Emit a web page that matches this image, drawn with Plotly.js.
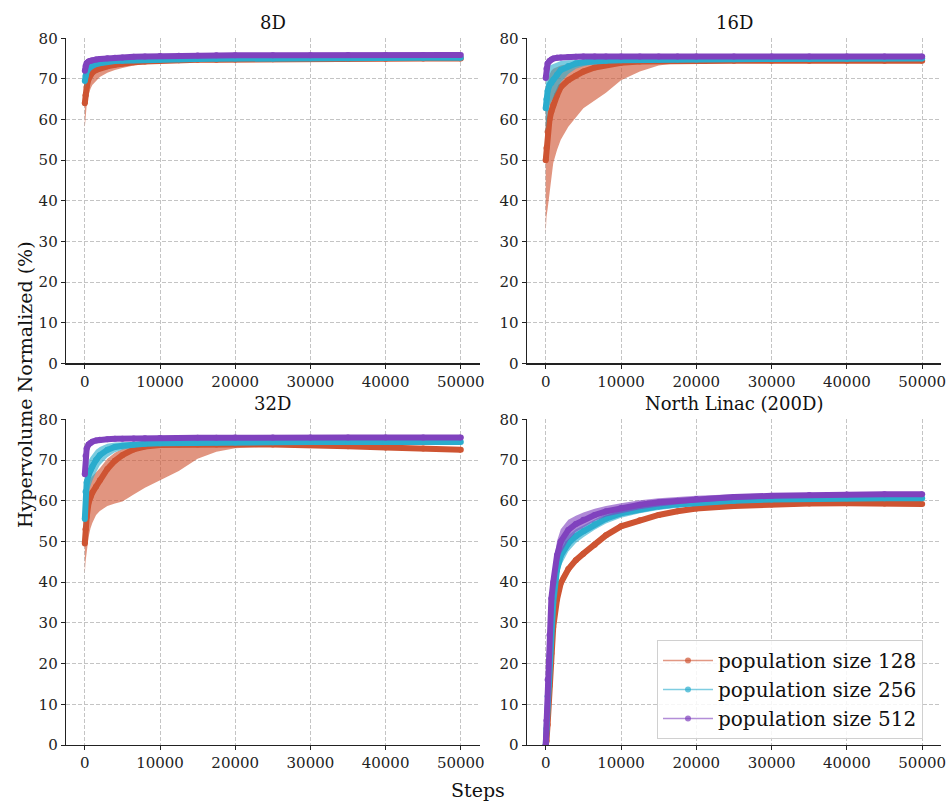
<!DOCTYPE html>
<html><head><meta charset="utf-8">
<script src="https://cdn.plot.ly/plotly-3.0.1.min.js"></script>
<style>html,body{margin:0;padding:0;background:#fff}</style>
</head><body><div id="chart" style="width:950px;height:803px"></div>
<script>
// ---------- data ----------
const steps = [0,100,250,500,750,1000,1500,2000,3000,4000,5000,6500,8000,10000,12500,15000,17500,20000,25000,30000,35000,40000,45000,50000];
const seriesNames = ['population size 128','population size 256','population size 512'];
const panelTitles = ['8D','16D','32D','North Linac (200D)'];
const xTickVals = [0,10000,20000,30000,40000,50000];
const yTickVals = [0,10,20,30,40,50,60,70,80];

// 8D
const d8_mean128 = [64,66,68,70,71,71.6,72.2,72.6,73.1,73.5,73.8,74.1,74.3,74.5,74.6,74.7,74.75,74.8,74.85,74.9,74.9,74.95,75,75];
const d8_errLo128 = [6,5,4.5,4,3.5,3.1,2.7,2.1,1.6,1.3,1.1,0.8,0.6,0.5,0.4,0.3,0.25,0.2,0.2,0.2,0.2,0.2,0.2,0.2];
const d8_errHi128 = [6,5,4,3,2.3,2,1.7,1.5,1.2,1,0.8,0.6,0.5,0.4,0.4,0.3,0.25,0.25,0.2,0.2,0.2,0.2,0.2,0.2];
const d8_mean256 = [69.5,70.8,71.8,72.6,73.0,73.3,73.7,73.9,74.2,74.4,74.5,74.6,74.7,74.8,74.85,74.9,74.95,75,75.05,75.1,75.1,75.15,75.2,75.2];
const d8_errLo256 = [2,1.8,1.6,1.3,1.1,1,0.9,0.8,0.6,0.5,0.45,0.4,0.35,0.3,0.3,0.25,0.25,0.2,0.2,0.2,0.2,0.2,0.2,0.2];
const d8_errHi256 = [1.6,1.4,1.2,1,0.9,0.8,0.7,0.6,0.5,0.45,0.4,0.35,0.3,0.3,0.25,0.25,0.2,0.2,0.2,0.2,0.2,0.2,0.2,0.2];
const d8_mean512 = [72,73.2,73.9,74.3,74.5,74.6,74.8,74.9,75.1,75.2,75.3,75.45,75.55,75.65,75.7,75.75,75.8,75.8,75.85,75.85,75.9,75.9,75.9,75.9];
const d8_err512 = [1.5,1.2,0.9,0.7,0.6,0.55,0.5,0.5,0.45,0.45,0.4,0.4,0.35,0.35,0.3,0.3,0.3,0.3,0.3,0.3,0.3,0.3,0.3,0.3];

// 16D
const d16_mean128 = [50,53,57,60,62,63.6,66,68,69.7,70.8,71.8,72.8,73.4,74,74.3,74.4,74.45,74.5,74.5,74.5,74.5,74.5,74.5,74.5];
const d16_errLo128 = [18,17,19,19,17,14.3,13.5,13,11.5,10.3,9,8,6.8,4.3,2.5,1.1,0.55,0.3,0.2,0.2,0.2,0.2,0.2,0.2];
const d16_errHi128 = [12,13,12,11,10,8.9,7,5.3,4,3.2,2.4,1.6,1.1,0.6,0.3,0.2,0.15,0.15,0.2,0.2,0.2,0.2,0.2,0.2];
const d16_mean256 = [62.8,65,67,68.5,69,69.8,71,72.2,73.2,73.8,74.1,74.4,74.5,74.6,74.7,74.75,74.8,74.8,74.85,74.9,74.9,74.95,75,75];
const d16_errLo256 = [6,6,5.5,5,4.8,4.5,3.8,3,2,1.3,1,0.7,0.5,0.4,0.35,0.3,0.3,0.25,0.25,0.2,0.2,0.2,0.2,0.2];
const d16_errHi256 = [6,6,5.5,4.8,4.5,4,3,2.2,1.4,0.9,0.7,0.5,0.45,0.4,0.35,0.3,0.3,0.25,0.25,0.2,0.2,0.2,0.2,0.2];
const d16_mean512 = [70.2,72.5,73.8,74.4,74.8,75,75.2,75.3,75.4,75.45,75.5,75.5,75.5,75.55,75.55,75.55,75.55,75.55,75.55,75.55,75.55,75.55,75.55,75.55];
const d16_err512 = [1,0.8,0.6,0.5,0.4,0.35,0.3,0.3,0.25,0.25,0.2,0.2,0.2,0.2,0.2,0.2,0.2,0.2,0.2,0.2,0.2,0.2,0.2,0.2];

// 32D
const d32_mean128 = [49.5,53,56,59.5,61,62,63.5,65,67.8,69.8,71.2,72.6,73.3,73.7,73.8,73.8,73.8,73.8,73.8,73.7,73.4,73.1,72.8,72.5];
const d32_errLo128 = [7.3,8,8,8.5,7.8,7.5,7,7.5,9.1,10.5,11.4,11.1,10.1,8.7,6.5,3.5,1.8,0.9,0.4,0.3,0.3,0.3,0.3,0.3];
const d32_errHi128 = [5,5,5,5,4.5,4,3.5,3,2.5,2,1.5,1,0.6,0.4,0.3,0.3,0.3,0.3,0.3,0.3,0.3,0.3,0.3,0.3];
const d32_mean256 = [55.5,62.2,64.5,66.3,67.5,68.4,70,71.2,72.5,73.2,73.5,73.8,74,74.1,74.2,74.25,74.3,74.3,74.35,74.4,74.4,74.4,74.4,74.4];
const d32_errLo256 = [3,4,4,4,3.8,3.5,3,2.5,1.8,1.3,1,0.7,0.5,0.4,0.3,0.3,0.3,0.3,0.3,0.3,0.3,0.3,0.3,0.3];
const d32_errHi256 = [3,3.5,3.5,3.5,3.2,3,2.5,2,1.5,1.1,0.9,0.6,0.5,0.4,0.3,0.3,0.3,0.3,0.3,0.3,0.3,0.3,0.3,0.3];
const d32_mean512 = [66.5,71,72.8,73.8,74.2,74.5,74.8,75,75.1,75.2,75.25,75.3,75.35,75.4,75.4,75.45,75.45,75.5,75.5,75.5,75.5,75.5,75.5,75.5];
const d32_err512 = [1.5,1,0.7,0.5,0.4,0.35,0.3,0.3,0.3,0.25,0.25,0.25,0.25,0.25,0.25,0.25,0.25,0.25,0.25,0.25,0.25,0.25,0.25,0.25];

// North Linac (200D)
const nl_mean128 = [0,1,5,14.5,22.5,29,35.8,39.8,43.2,45.4,47,49.2,51.5,53.7,55.2,56.5,57.4,58.1,58.7,59.1,59.3,59.4,59.3,59.2];
const nl_err128 = [0,1,2,2.5,2.5,2.5,2,1.5,1,0.8,0.7,0.6,0.5,0.5,0.4,0.4,0.4,0.4,0.3,0.3,0.3,0.3,0.3,0.3];
const nl_mean256 = [0,4,12,22,30.5,35,43,46.5,49.5,51.3,52.5,54.2,55.6,56.9,57.9,58.6,59.1,59.5,60,60.3,60.5,60.6,60.6,60.6];
const nl_err256 = [0,1.5,3,3.5,3.5,3.5,3,2.5,2,1.7,1.5,1.3,1.2,1.1,1,0.9,0.8,0.7,0.6,0.5,0.5,0.4,0.4,0.4];
const nl_mean512 = [0,6,16,27,36,40,46.6,50,52.8,54.3,55.3,56.5,57.4,58.2,59,59.6,60,60.4,60.9,61.2,61.4,61.5,61.6,61.6];
const nl_err512 = [0,2,3.5,4,4,4,3.5,3,2.5,2,1.8,1.5,1.3,1.2,1.1,1,0.9,0.8,0.7,0.6,0.5,0.5,0.5,0.5];

// ---------- build ----------
const colors = [[206,84,50],[42,172,205],[128,66,190]];
const rgba = (c,a) => `rgba(${c[0]},${c[1]},${c[2]},${a})`;
const panels = [
  [[d8_mean128,d8_errLo128,d8_errHi128],[d8_mean256,d8_errLo256,d8_errHi256],[d8_mean512,d8_err512,d8_err512]],
  [[d16_mean128,d16_errLo128,d16_errHi128],[d16_mean256,d16_errLo256,d16_errHi256],[d16_mean512,d16_err512,d16_err512]],
  [[d32_mean128,d32_errLo128,d32_errHi128],[d32_mean256,d32_errLo256,d32_errHi256],[d32_mean512,d32_err512,d32_err512]],
  [[nl_mean128,nl_err128,nl_err128],[nl_mean256,nl_err256,nl_err256],[nl_mean512,nl_err512,nl_err512]]
];
const FONT = 'DejaVu Serif, Liberation Serif, serif';
const traces = [];
panels.forEach((panel, pi) => {
  const sfx = pi === 0 ? '' : String(pi + 1);
  panel.forEach((s, si) => {
    const [mean, eLo, eHi] = s;
    const upper = mean.map((v,i) => v + eHi[i]);
    const lower = mean.map((v,i) => v - eLo[i]);
    traces.push({
      type:'scatter', x: steps.concat(steps.slice().reverse()),
      y: upper.concat(lower.slice().reverse()),
      fill:'toself', fillcolor: rgba(colors[si],0.62), line:{width:0},
      mode:'lines', hoverinfo:'skip', showlegend:false,
      xaxis:'x'+sfx, yaxis:'y'+sfx
    });
    traces.push({
      type:'scatter', x: steps, y: mean, mode:'lines+markers',
      line:{color: rgba(colors[si],1), width:6},
      marker:{color: rgba(colors[si],1), size:6},
      showlegend:false, name: seriesNames[si],
      xaxis:'x'+sfx, yaxis:'y'+sfx
    });
  });
});
seriesNames.forEach((n, si) => {
  traces.push({type:'scatter', x:[null], y:[null], mode:'lines+markers', name:n,
    line:{color: rgba(colors[si],0.6), width:1.5}, marker:{color: rgba(colors[si],0.7), size:6},
    xaxis:'x4', yaxis:'y4', showlegend:true});
});

const W = 950, H = 803;
const xDomL = [66/W, 479.6/W], xDomR = [526.9/W, 941/W];
const yDomT = [1-363.3/H, 1-38.3/H], yDomB = [1-745/H, 1-419.3/H];
const axCommon = {
  showline:true, linecolor:'#222', linewidth:1.3, ticks:'outside', ticklen:4, tickcolor:'#222',
  showgrid:true, gridcolor:'#c4c4c4', griddash:'4px,2px', gridwidth:1, zeroline:false,
  tickfont:{family:FONT, size:15, color:'#222'}
};
const xAx = (dom, anchor) => Object.assign({
  domain: dom, anchor: anchor, range:[-2500,52500], tickvals:xTickVals, ticktext:xTickVals.map(String)
}, axCommon);
const yAx = (dom, anchor) => Object.assign({
  domain: dom, anchor: anchor, range:[0,80], tickvals:yTickVals, ticktext:yTickVals.map(String)
}, axCommon);
const titlePos = [[272.8,22],[734,22],[272.8,403],[734,403]];
const annotations = panelTitles.map((t,i) => ({
  text:t, xref:'paper', yref:'paper', x:titlePos[i][0]/W, y:1-titlePos[i][1]/H,
  xanchor:'center', yanchor:'middle', showarrow:false, font:{family:FONT, size:18, color:'#111'}
}));
annotations.push({text:'Steps', xref:'paper', yref:'paper', x:478/W, y:1-790/H, xanchor:'center', yanchor:'middle',
  showarrow:false, font:{family:FONT, size:19, color:'#111'}});
annotations.push({text:'Hypervolume Normalized (%)', xref:'paper', yref:'paper', x:25/W, y:1-385/H, textangle:-90,
  xanchor:'center', yanchor:'middle', showarrow:false, font:{family:FONT, size:19, color:'#111'}});

const layout = {
  width:W, height:H, margin:{l:0,r:0,t:0,b:0}, paper_bgcolor:'#fff', plot_bgcolor:'#fff',
  showlegend:true, font:{family:FONT},
  xaxis: xAx(xDomL,'y'), yaxis: yAx(yDomT,'x'),
  xaxis2: xAx(xDomR,'y2'), yaxis2: yAx(yDomT,'x2'),
  xaxis3: xAx(xDomL,'y3'), yaxis3: yAx(yDomB,'x3'),
  xaxis4: xAx(xDomR,'y4'), yaxis4: yAx(yDomB,'x4'),
  legend:{x:657/W, y:1-640/H, xanchor:'left', yanchor:'top', bgcolor:'rgba(255,255,255,0.85)',
    bordercolor:'#d0d0d0', borderwidth:1, font:{family:FONT, size:20, color:'#111'}, itemwidth:50,
    tracegroupgap:0},
  annotations: annotations
};
Plotly.newPlot('chart', traces, layout, {staticPlot:true});
</script></body></html>
